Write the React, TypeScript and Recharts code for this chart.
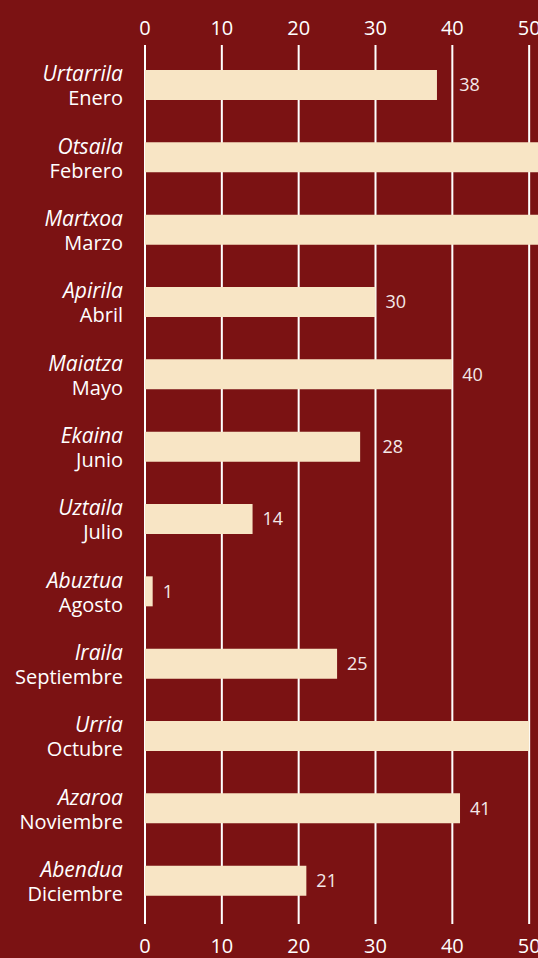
import { BarChart, Bar, XAxis, YAxis, CartesianGrid, LabelList } from 'recharts'

const months = ['Enero', 'Febrero', 'Marzo', 'Abril', 'Mayo', 'Junio', 'Julio', 'Agosto', 'Septiembre', 'Octubre', 'Noviembre', 'Diciembre']
const monthsEu = ['Urtarrila', 'Otsaila', 'Martxoa', 'Apirila', 'Maiatza', 'Ekaina', 'Uztaila', 'Abuztua', 'Iraila', 'Urria', 'Azaroa', 'Abendua']
const values = [38, 56, 54, 30, 40, 28, 14, 1, 25, 50, 41, 21]
const xTicks = [0, 10, 20, 30, 40, 50]

const data = months.map((m, i) => ({ month: m, eu: monthsEu[i], value: values[i] }))

const BG = '#7b1213'
const BAR = '#f8e5c5'
const FONT = '"Open Sans", sans-serif'

function MonthTick({ x, y, payload }: any) {
  const i = payload.index
  return (
    <g>
      <text x={x} y={y - 4} textAnchor="end" fill="#fff" fontSize={21} fontStyle="italic" fontFamily={FONT}>
        {monthsEu[i]}
      </text>
      <text x={x} y={y + 20} textAnchor="end" fill="#fff" fontSize={20} fontFamily={FONT}>
        {months[i]}
      </text>
    </g>
  )
}

// value label to the right of the bar, pushed past a grid line if it would sit on one
function ValueLabel({ x, y, width, height, value }: any) {
  const unit = width / value
  const textW = String(value).length * 10.5
  let lx = x + width + 10
  for (const t of xTicks) {
    const gx = x + t * unit
    if (gx > lx - 3 && gx < lx + textW + 3) lx = gx + 7
  }
  return (
    <text x={lx} y={y + height / 2} dy="0.35em" fill="#f4e9e9" fontSize={18} fontFamily={FONT}>
      {value}
    </text>
  )
}

export default function App() {
  const tickStyle = { fill: '#fff', fontSize: 20, fontFamily: FONT }
  return (
    <div style={{ position: 'absolute', left: 0, top: 0, width: 538, height: 958, overflow: 'hidden', background: BG }}>
      <BarChart
        width={620}
        height={958}
        data={data}
        layout="vertical"
        margin={{ top: 0, right: 14, bottom: 0, left: 0 }}
      >
        <CartesianGrid xAxisId="bottom" horizontal={false} stroke="#fff" strokeWidth={2} />
        <XAxis
          xAxisId="top"
          orientation="top"
          type="number"
          domain={[0, 60]}
          allowDataOverflow
          ticks={xTicks}
          height={45}
          axisLine={false}
          tickLine={false}
          tickMargin={4}
          tick={tickStyle}
          interval={0}
        />
        <XAxis
          xAxisId="bottom"
          orientation="bottom"
          type="number"
          domain={[0, 60]}
          allowDataOverflow
          ticks={xTicks}
          height={34}
          axisLine={false}
          tickLine={false}
          tickMargin={9}
          tick={tickStyle}
          interval={0}
        />
        <YAxis
          type="category"
          dataKey="month"
          width={145}
          axisLine={false}
          tickLine={false}
          tickMargin={16}
          padding={{ top: 4, bottom: 7 }}
          tick={<MonthTick />}
          interval={0}
        />
        <Bar dataKey="value" xAxisId="bottom" fill={BAR} barSize={30} isAnimationActive={false}>
          <LabelList dataKey="value" content={<ValueLabel />} />
        </Bar>
      </BarChart>
    </div>
  )
}
